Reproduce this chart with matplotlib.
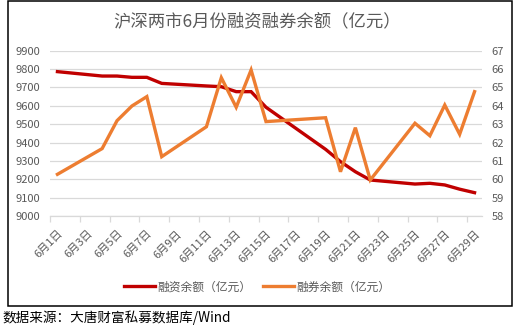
import matplotlib.pyplot as plt
from matplotlib.patches import Rectangle

plt.rcParams['font.family'] = ['Noto Sans CJK SC', 'DejaVu Sans']

# 2018年6月交易日
days = [1, 4, 5, 6, 7, 8, 11, 12, 13, 14, 15, 19, 20, 21, 22, 25, 26, 27, 28, 29]
margin_bal = [9786, 9762, 9762, 9755, 9755, 9722, 9708, 9704, 9677, 9677,
              9592, 9363, 9296, 9241, 9196, 9174, 9178, 9169, 9146, 9127]
short_bal = [60.27, 61.67, 63.19, 63.99, 64.50, 61.23, 62.86, 65.53, 63.92, 65.95,
             63.14, 63.35, 60.41, 62.81, 59.96, 63.05, 62.37, 64.04, 62.45, 64.77]
label_days = list(range(1, 30, 2))
tick_labels = ['6月%d日' % d for d in label_days]

grey = '#595959'
red = '#C00000'
orange = '#ED7D31'

fig = plt.figure(figsize=(5.19, 3.29), dpi=100)
ax = fig.add_axes([50 / 519, 1 - 216 / 329, 432 / 519, 165.3 / 329])
ax2 = ax.twinx()

l1, = ax.plot(days, margin_bal, color=red, lw=2.4, solid_joinstyle='miter', zorder=3)
l2, = ax2.plot(days, short_bal, color=orange, lw=2.4, solid_joinstyle='miter', zorder=3)

ax.set_xlim(0.5, 29.5)
ax.set_ylim(9000, 9900)
ax.set_yticks(range(9000, 9901, 100))
ax2.set_ylim(58, 67)
ax2.set_yticks(range(58, 68))

ax.yaxis.grid(True, color='#D9D9D9', lw=0.9)
ax.set_axisbelow(True)

ax.set_xticks(label_days)
ax.set_xticklabels(tick_labels, rotation=45, ha='right', rotation_mode='anchor',
                   fontsize=8, color=grey)
ax.set_xticks([d - 0.5 for d in label_days], minor=True)
ax.tick_params(axis='x', which='major', length=0, pad=9)
ax.tick_params(axis='x', which='minor', length=4.5, color='#D9D9D9', width=0.9)
ax.tick_params(axis='y', length=0, labelsize=8, labelcolor=grey, pad=7)
ax2.tick_params(axis='y', length=0, labelsize=8, labelcolor=grey, pad=7)

for a in (ax, ax2):
    for s in a.spines.values():
        s.set_visible(False)
ax.spines['bottom'].set_visible(True)
ax.spines['bottom'].set_color('#D9D9D9')
ax.spines['bottom'].set_linewidth(0.9)

fig.text(257 / 519, 1 - 21 / 329, '沪深两市6月份融资融券余额（亿元）', ha='center', va='center',
         fontsize=12.5, color=grey)

fig.legend([l1, l2], ['融资余额（亿元）', '融券余额（亿元）'], loc='center',
           bbox_to_anchor=(257 / 519, 1 - 287 / 329), ncol=2, frameon=False,
           fontsize=8.5, labelcolor=grey, handlelength=2.6, handletextpad=0.2,
           columnspacing=1.0)

fig.patches.append(Rectangle((7.5 / 519, 1 - 305.5 / 329), 504 / 519, 304.5 / 329,
                             transform=fig.transFigure, fill=False, ec='black', lw=1.1))

fig.text(2 / 519, 1 - 318 / 329, '数据来源：大唐财富私募数据库/Wind', ha='left', va='center',
         fontsize=9.8, style='italic', color='black')

fig.savefig('out.png', dpi=100)
